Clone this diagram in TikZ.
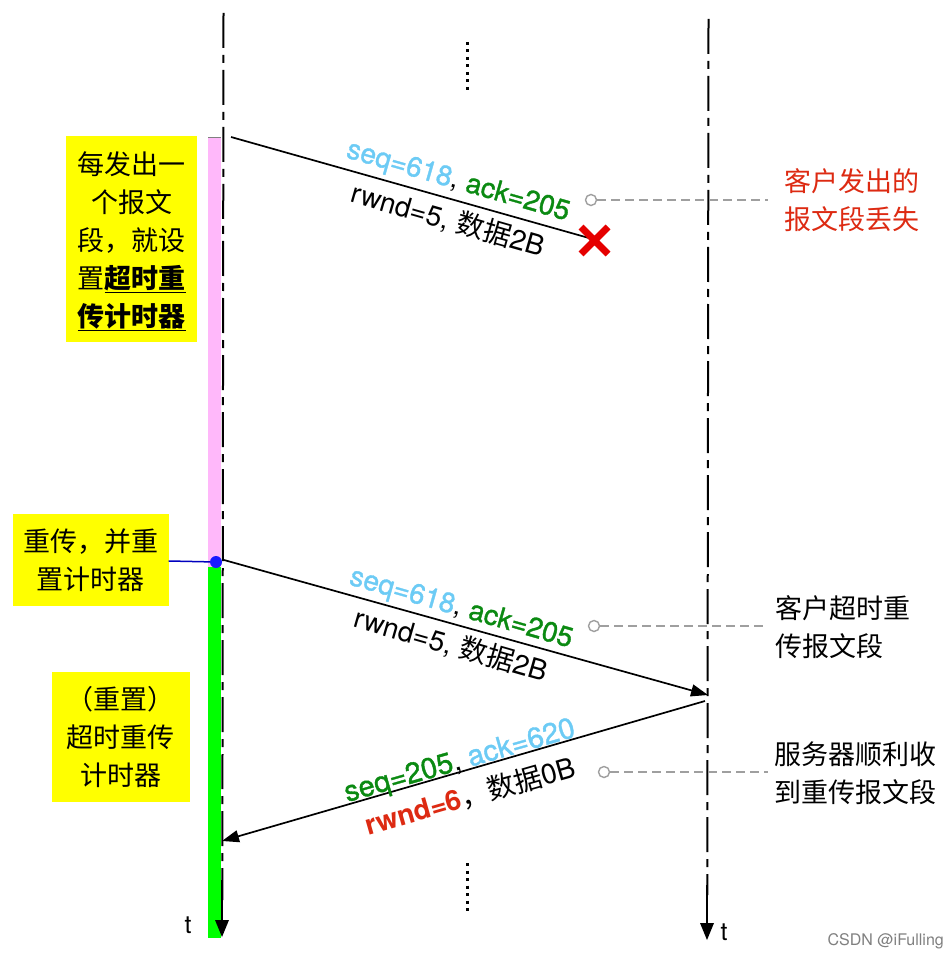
\documentclass[tikz,border=0pt]{standalone}
\usepackage{fontspec}
\setmainfont{TeX Gyre Heros}
\newfontfamily\cjk{Noto Sans CJK SC}
\newfontfamily\semi[FakeBold=1.2]{TeX Gyre Heros}
\usetikzlibrary{arrows.meta}
\definecolor{skyc}{HTML}{6CCBF5}
\definecolor{grnc}{HTML}{0B8A12}
\definecolor{redc}{HTML}{DD2A12}
\definecolor{yel}{HTML}{FFFF00}
\definecolor{pinkbar}{HTML}{FFB8FA}
\definecolor{grnbar}{HTML}{00FF00}
\tikzset{
  x=1pt,y=-1pt,
  lifeline/.style={line width=2pt,dash pattern=on 35pt off 7pt on 8pt off 7pt},
  msg/.style={line width=1.7pt,-{Triangle[length=17pt,width=12pt]}},
  plainmsg/.style={line width=1.7pt},
  yellowbox/.style={fill=yel,inner sep=0pt,text width=#1,align=center,font=\cjk\fontsize{27}{38}\selectfont},
  note/.style={font=\cjk\fontsize{27}{38}\selectfont,align=left,anchor=west,inner sep=0pt},
  lead/.style={gray!75,line width=1.3pt,dash pattern=on 9pt off 5pt},
  ring/.style={circle,draw=gray!75,line width=1.4pt,fill=white,minimum size=11pt,inner sep=0pt},
  lbl/.style={font=\fontsize{28}{30}\selectfont,inner sep=0pt,rotate=-16},
  dots/.style={line width=3pt,dash pattern=on 3pt off 4.5pt},
}
\begin{document}
\begin{tikzpicture}
\useasboundingbox (0,0) rectangle (947,957);
\fill[white] (0,0) rectangle (947,957);
% timer bars
\fill[pinkbar] (208,137) rectangle (221,567);
\fill[grnbar] (208,567) rectangle (221,938);
\draw[gray,line width=1.2pt] (208,137.5) -- (221,137.5);
% lifelines
\coordinate (ctop) at (223.5,13);
\coordinate (cbot) at (222,937);
\coordinate (stop) at (708.5,19);
\coordinate (sbot) at (707,940);
\draw[lifeline] (ctop) -- (222.3,900);
\draw[line width=2pt] (222.3,880) -- (222.3,922);
\draw[lifeline] (stop) -- (707.3,895);
\draw[line width=2pt] (707.3,885) -- (707.3,925);
\fill (215,920) -- (229,920) -- (cbot) -- cycle;
\fill (700,923) -- (714,923) -- (sbot) -- cycle;
% dots
\coordinate (d1a) at (467,42); \coordinate (d1b) at (467,92);
\coordinate (d2a) at (467,863); \coordinate (d2b) at (467,913);
\draw[dots] (d1a) -- (d1b);
\draw[dots] (d2a) -- (d2b);
% messages
\coordinate (m1a) at (231,137); \coordinate (m1b) at (596,240);
\coordinate (m2a) at (224,560); \coordinate (m2b) at (708,695);
\coordinate (m3a) at (705,701); \coordinate (m3b) at (222,841);
\draw[plainmsg] (m1a) -- (m1b);
\draw[msg] (m2a) -- (m2b);
\draw[msg] (m3a) -- (m3b);
% cross
\draw[red!90!black,line width=7pt] (581,227) -- (608,254) (608,227) -- (581,254);
% message labels
\node[lbl] (l1) at (458,182) {\textcolor{skyc}{\semi seq=618}, \textcolor{grnc}{\semi ack=205}};
\node[lbl] (l1b) at (448,220) {rwnd=5, {\cjk 数据}2B};
\node[lbl] (l2) at (461,609) {\textcolor{skyc}{\semi seq=618}, \textcolor{grnc}{\semi ack=205}};
\node[lbl] (l2b) at (451,645) {rwnd=5, {\cjk 数据}2B};
\node[lbl,rotate=32,font=\fontsize{29}{30}\selectfont] (l3) at (460,762) {\textcolor{grnc}{\semi seq=205}, \textcolor{skyc}{\semi ack=620}};
\node[lbl,rotate=32] (l3b) at (470,796) {\textcolor{redc}{\bfseries rwnd=6}{\cjk ，数据}0B};
% yellow boxes
\node[yellowbox=131pt,minimum height=206pt] (b0) at (131.5,239) {};
\node[yellowbox=131pt] (b1) at (131.5,241) {每发出一\\个报文\\段，就设\\置\textbf{\underline{超时重}}\\\textbf{\underline{传计时器}}};
\node[yellowbox=156pt,minimum height=92pt] (b2) at (90.5,560) {重传，并重\\置计时器};
\node[yellowbox=138pt,minimum height=130pt] (b3) at (120.5,737) {（重置）\\超时重传\\计时器};
% reset marker
\node[circle,fill=blue!90!white,minimum size=12pt,inner sep=0pt] (dot) at (216,562) {};
\draw[blue!75!black,line width=1.5pt] (b2.east |- 0,561) -- (dot);
% notes
\node[ring] (r1) at (591,200) {};
\node[ring] (r2) at (594,626) {};
\node[ring] (r3) at (604,772) {};
\coordinate (e1) at (768,200);
\coordinate (e2) at (768,626);
\coordinate (e3) at (768,772);
\draw[lead] (r1) -- (e1);
\draw[lead] (r2) -- (e2);
\draw[lead] (r3) -- (e3);
\node[note,text=redc] (n1) at (784,200) {客户发出的\\报文段丢失};
\node[note] (n2) at (775,627) {客户超时重\\传报文段};
\node[note] (n3) at (774,773) {服务器顺利收\\到重传报文段};
% t
\node[font=\fontsize{25}{28}\selectfont,inner sep=0pt] (t1) at (188,925) {t};
\node[font=\fontsize{25}{28}\selectfont,inner sep=0pt] (t2) at (724,932) {t};
\node[font=\fontsize{16}{18}\selectfont,text=gray,anchor=east,inner sep=0pt] (w) at (944,941) {CSDN @iFulling};
\end{tikzpicture}
\end{document}
